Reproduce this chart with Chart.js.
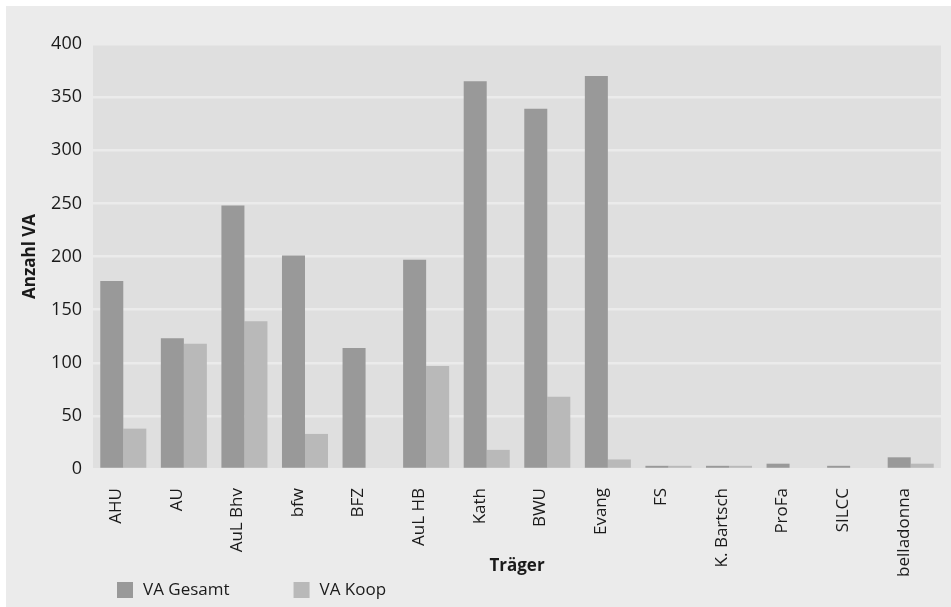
<!DOCTYPE html>
<html>
<head>
<meta charset="utf-8">
<title>Anzahl VA nach Träger</title>
<script src="https://cdn.jsdelivr.net/npm/chart.js@4/dist/chart.umd.min.js"></script>
<style>
  html, body { margin: 0; padding: 0; background: #ffffff; }
  canvas { display: block; }
</style>
</head>
<body>
<canvas id="myChart" width="951" height="607"></canvas>
<script>
var traeger = ['AHU', 'AU', 'AuL Bhv', 'bfw', 'BFZ', 'AuL HB', 'Kath', 'BWU', 'Evang', 'FS', 'K. Bartsch', 'ProFa', 'SILCC', 'belladonna'];
var vaGesamt = [177, 123, 248, 201, 114, 197, 365, 339, 370, 3, 3, 5, 3, 11];
var vaKoop = [38, 118, 139, 33, 0, 97, 18, 68, 9, 3, 3, 0, 0, 5];
var yTicks = [0, 50, 100, 150, 200, 250, 300, 350, 400];

var fontFamily = '"Open Sans", sans-serif';
var textColor = '#1a1a1a';

// grey panel behind everything, slightly darker plot area
var backgroundPlugin = {
    id: 'panelBackground',
    beforeDraw: function(chart) {
        var ctx = chart.ctx;
        var area = chart.chartArea;
        ctx.save();
        ctx.fillStyle = '#ffffff';
        ctx.fillRect(0, 0, chart.width, chart.height);
        ctx.fillStyle = '#ebebeb';
        ctx.fillRect(6, 6, chart.width - 6, chart.height - 6);
        ctx.fillStyle = '#dfdfdf';
        ctx.fillRect(area.left, area.top, area.right - area.left, area.bottom - area.top);
        ctx.restore();
    }
};

// legend under the axis title, left aligned with wide gaps
var legendPlugin = {
    id: 'bottomLegend',
    afterDraw: function(chart) {
        var ctx = chart.ctx;
        var x = chart.chartArea.left + 24;
        var y = chart.height - 17;
        ctx.save();
        ctx.font = '17px ' + fontFamily;
        ctx.textBaseline = 'middle';
        chart.data.datasets.forEach(function(ds) {
            ctx.fillStyle = ds.backgroundColor;
            ctx.fillRect(x, y - 8, 16, 16);
            ctx.fillStyle = textColor;
            ctx.fillText(ds.label, x + 26, y);
            x += 26 + ctx.measureText(ds.label).width + 64;
        });
        ctx.restore();
    }
};

var config = {
    type: 'bar',
    data: {
        labels: traeger,
        datasets: [{
            label: 'VA Gesamt',
            data: vaGesamt,
            backgroundColor: '#999999'
        }, {
            label: 'VA Koop',
            data: vaKoop,
            backgroundColor: '#b9b9b9'
        }]
    },
    options: {
        responsive: false,
        animation: false,
        layout: {
            padding: { left: 6, right: 10, top: 44, bottom: 8 }
        },
        datasets: {
            bar: { barPercentage: 1, categoryPercentage: 0.76 }
        },
        plugins: {
            legend: { display: false },
            tooltip: { enabled: false }
        },
        scales: {
            x: {
                grid: { display: false, drawTicks: false },
                border: { display: false },
                ticks: {
                    color: textColor,
                    font: { family: fontFamily, size: 17 },
                    maxRotation: 90,
                    minRotation: 90,
                    padding: 19,
                    labelOffset: -7,
                    autoSkip: false
                },
                title: {
                    display: true,
                    text: 'Träger',
                    color: textColor,
                    font: { family: fontFamily, size: 17, weight: 'bold' },
                    padding: { top: 0, bottom: 23 }
                },
                afterFit: function(scale) {
                    scale.height = 130;
                }
            },
            y: {
                min: yTicks[0],
                max: yTicks[yTicks.length - 1],
                grid: { color: '#ebebeb', lineWidth: 2.5, drawTicks: false },
                border: { display: false },
                ticks: {
                    stepSize: yTicks[1] - yTicks[0],
                    color: textColor,
                    font: { family: fontFamily, size: 18 },
                    padding: 11
                },
                title: {
                    display: true,
                    text: 'Anzahl VA',
                    color: textColor,
                    font: { family: fontFamily, size: 17, weight: 'bold' },
                    padding: { top: 14, bottom: 0 }
                },
                afterFit: function(scale) {
                    scale.width = 87;
                }
            }
        }
    },
    plugins: [backgroundPlugin, legendPlugin]
};

if (document.getElementById('myChart')) {
    var myBarChart = new Chart(document.getElementById('myChart').getContext('2d'), config);
}
</script>
</body>
</html>
